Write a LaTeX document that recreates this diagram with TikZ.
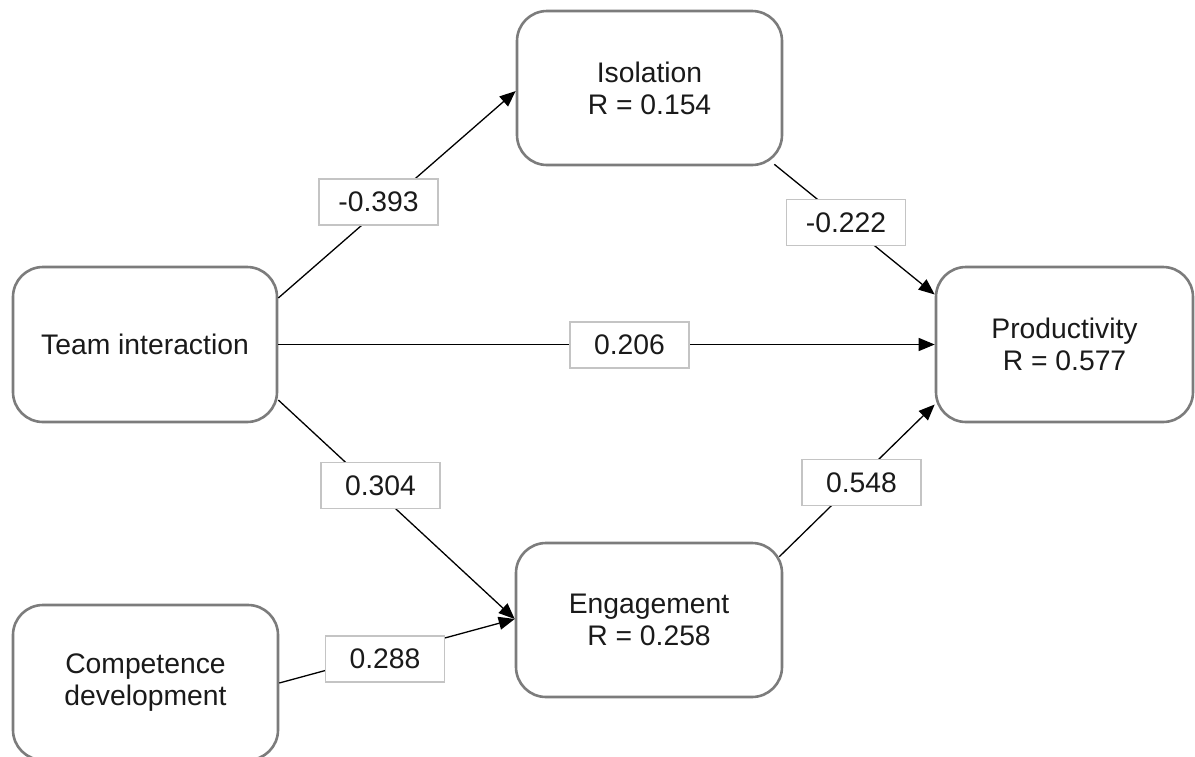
\documentclass[tikz,border=0pt]{standalone}
\usepackage{fontspec}
\setmainfont{Liberation Sans}
\usetikzlibrary{arrows.meta,calc}
\definecolor{boxgray}{HTML}{7C7C7C}
\definecolor{lblgray}{HTML}{C4C4C4}
\definecolor{textc}{HTML}{1A1A1A}
\begin{document}
\begin{tikzpicture}[x=1pt,y=-1pt,
  txt/.style={font=\fontsize{28.3}{32}\selectfont, text=textc},
  box/.style={txt, draw=boxgray, line width=2.6pt, rounded corners=30pt,
    fill=white, align=center, inner sep=0pt},
  lbl/.style={txt, draw=lblgray, line width=1.2pt, fill=white,
    minimum width=119pt, minimum height=46pt, inner sep=0pt},
  arr/.style={line width=1.3pt, draw=black,
    -{Triangle[length=16pt,width=13pt]}}]
\useasboundingbox (0,0) rectangle (1195,756);

% construct boxes
\node[box, minimum width=265pt, minimum height=154pt] (iso)  at (649.5,88)   {Isolation\\R = 0.154};
\node[box, minimum width=264pt, minimum height=155pt] (team) at (145,344.5)  {Team interaction};
\node[box, minimum width=257pt, minimum height=155pt] (prod) at (1064.5,344.5) {Productivity\\R = 0.577};
\node[box, minimum width=265pt, minimum height=155pt] (comp) at (145.5,682.5) {Competence\\development};
\node[box, minimum width=266pt, minimum height=154pt] (eng)  at (649,620)    {Engagement\\R = 0.258};

% paths
\draw[arr] ($(team.east)+(0,-46.5)$) -- ($(iso.west)+(0,3)$);
\draw[arr] (team.east) -- (prod.west);
\draw[arr] ($(team.east)+(0,55.5)$) -- ($(eng.west)+(0,-1)$);
\draw[arr] ($(comp.east)+(0,0.5)$) -- ($(eng.west)+(0,-1)$);
\draw[arr] ($(iso.south east)+(-9,-2)$) -- ($(prod.west)+(0,-50)$);
\draw[arr] ($(eng.north east)+(-4,15)$) -- ($(prod.west)+(0,60)$);

% path coefficients
\node[lbl] (l393) at (378.5,202)   {-0.393};
\node[lbl] (l222) at (846,222.5)   {-0.222};
\node[lbl] (l206) at (629.5,345)   {0.206};
\node[lbl] (l304) at (380.5,485.5) {0.304};
\node[lbl] (l548) at (861.5,482.5) {0.548};
\node[lbl] (l288) at (385,659)     {0.288};
\end{tikzpicture}
\end{document}
